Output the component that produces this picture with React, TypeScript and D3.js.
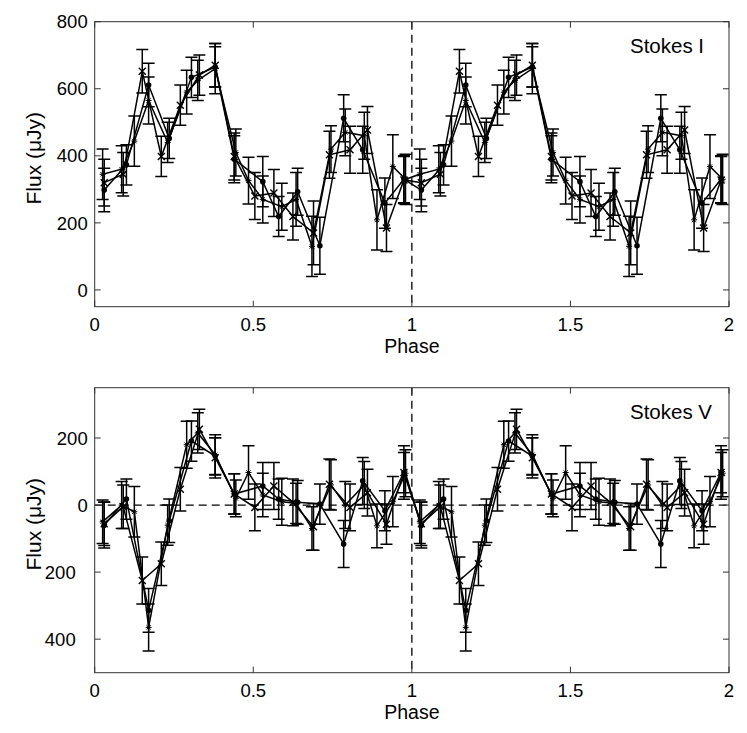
import { useEffect, useRef } from "react";
import * as d3 from "d3";

// phase bins of the three observing runs (first cycle; second cycle is phase + 1)
const phaseA = [0.03, 0.09, 0.15, 0.21, 0.27, 0.33, 0.38, 0.44, 0.505, 0.565, 0.625, 0.69, 0.74, 0.805, 0.86, 0.92, 0.975];
const phaseB = [0.03, 0.1, 0.17, 0.235, 0.305, 0.38, 0.44, 0.53, 0.58, 0.64, 0.71, 0.785, 0.845, 0.915, 0.975];
const phaseC = [0.025, 0.085, 0.125, 0.17, 0.23, 0.29, 0.325, 0.38, 0.445, 0.485, 0.53, 0.59, 0.635, 0.685, 0.745, 0.79, 0.85, 0.89, 0.94, 0.98];

// Stokes I (µJy)
const stokesIA = [320, 345, 652, 398, 551, 641, 670, 398, 280, 289, 219, 170, 403, 418, 477, 185, 328];
const stokesIB = [298, 373, 611, 452, 634, 665, 390, 323, 219, 293, 132, 512, 418, 259, 330];
const stokesIC = [345, 360, 444, 565, 440, 590, 625, 660, 410, 326, 270, 248, 270, 130, 420, 470, 460, 209, 368, 330];
const errIA = [70, 65, 65, 60, 60, 60, 65, 70, 70, 70, 70, 95, 70, 70, 70, 70, 70];
const errIB = [65, 60, 65, 60, 60, 60, 70, 75, 60, 70, 85, 70, 70, 75, 70];
const errIC = [75, 70, 75, 70, 60, 65, 60, 75, 70, 70, 70, 70, 80, 90, 70, 70, 70, 90, 95, 75];

// Stokes V (µJy)
const stokesVA = [-56, -5, -225, -175, 47, 226, 141, 33, -7, 57, 8, -65, 62, -7, 37, -57, 97];
const stokesVB = [-60, 18, -314, -47, 191, 146, 33, 57, 18, 8, 3, -116, 72, -17, 97];
const stokesVC = [-50, 0, -20, -365, -60, 180, 215, 150, 20, 97, 30, 10, 5, -70, 60, 0, 60, -62, 10, 95];
const errVA = [65, 65, 70, 65, 65, 60, 60, 60, 70, 70, 70, 70, 75, 70, 70, 60, 60];
const errVB = [68, 60, 65, 65, 60, 55, 60, 70, 60, 65, 60, 70, 70, 60, 80];
const errVC = [65, 70, 75, 70, 60, 70, 60, 60, 55, 80, 65, 70, 60, 65, 75, 70, 70, 65, 75, 70];

const phaseTicks = [0, 0.5, 1, 1.5, 2];
const phaseTickLabels = ["0", "0.5", "1", "1.5", "2"];
const iTicks = [0, 200, 400, 600, 800];
const iTickLabels = ["0", "200", "400", "600", "800"];
const vTicks = [-400, -200, 0, 200];
const vTickLabels = ["400", "200", "0", "200"];

const FONT = "'Liberation Sans', Arial, Helvetica, sans-serif";
const left = 94.7;
const right = 729;

const twoCycles = (phases, values, errs) =>
  [0, 1].flatMap((c) => phases.map((p, i) => ({ p: p + c, v: values[i], e: errs[i] })));

const drawMarker = (g, kind, cx, cy) => {
  if (kind === "x") {
    g.append("path")
      .attr("d", `M${cx - 3.5},${cy - 3.5}L${cx + 3.5},${cy + 3.5}M${cx - 3.5},${cy + 3.5}L${cx + 3.5},${cy - 3.5}`)
      .attr("stroke", "#000")
      .attr("stroke-width", 1.4);
  } else if (kind === "dot") {
    g.append("circle").attr("cx", cx).attr("cy", cy).attr("r", 2.8).attr("fill", "#000");
  } else {
    g.append("path")
      .attr("d", `M${cx - 3},${cy}L${cx + 3},${cy}M${cx},${cy - 3}L${cx},${cy + 3}M${cx - 2.2},${cy - 2.2}L${cx + 2.2},${cy + 2.2}M${cx - 2.2},${cy + 2.2}L${cx + 2.2},${cy - 2.2}`)
      .attr("stroke", "#000")
      .attr("stroke-width", 1);
  }
};

const renderPanel = (svg, cfg) => {
  const { id, top, bottom, domain, ticks, tickLabels, series, title, zeroLine } = cfg;
  const x = d3.scaleLinear().domain([0, 2]).range([left, right]);
  const y = d3.scaleLinear().domain(domain).range([bottom, top]);
  const g = svg.append("g");

  g.append("clipPath")
    .attr("id", id)
    .append("rect")
    .attr("x", left)
    .attr("y", top)
    .attr("width", right - left)
    .attr("height", bottom - top);

  const plot = g.append("g").attr("clip-path", `url(#${id})`);

  // dashed reference lines
  plot
    .append("line")
    .attr("x1", x(1))
    .attr("x2", x(1))
    .attr("y1", top)
    .attr("y2", bottom)
    .attr("stroke", "#000")
    .attr("stroke-width", 1.3)
    .attr("stroke-dasharray", "8,5");
  if (zeroLine) {
    plot
      .append("line")
      .attr("x1", left)
      .attr("x2", right)
      .attr("y1", y(0))
      .attr("y2", y(0))
      .attr("stroke", "#000")
      .attr("stroke-width", 1.3)
      .attr("stroke-dasharray", "8,5");
  }

  const line = d3
    .line()
    .x((d) => x(d.p))
    .y((d) => y(d.v));

  series.forEach((s) => {
    const pts = twoCycles(s.phases, s.values, s.errs);
    pts.forEach((d) => {
      const px = x(d.p);
      const y1 = y(d.v + d.e);
      const y2 = y(d.v - d.e);
      plot
        .append("path")
        .attr("d", `M${px},${y1}L${px},${y2}M${px - 6},${y1}L${px + 6},${y1}M${px - 6},${y2}L${px + 6},${y2}`)
        .attr("stroke", "#000")
        .attr("stroke-width", 1.5)
        .attr("fill", "none");
    });
    plot.append("path").attr("d", line(pts)).attr("fill", "none").attr("stroke", "#000").attr("stroke-width", 1.5);
    pts.forEach((d) => drawMarker(plot, s.marker, x(d.p), y(d.v)));
  });

  // axes box and inward ticks
  g.append("rect")
    .attr("x", left)
    .attr("y", top)
    .attr("width", right - left)
    .attr("height", bottom - top)
    .attr("fill", "none")
    .attr("stroke", "#333")
    .attr("stroke-width", 1);

  ticks.forEach((t, i) => {
    const ty = y(t);
    g.append("path").attr("d", `M${left},${ty}H${left + 6}M${right},${ty}H${right - 6}`).attr("stroke", "#333");
    // negative labels keep the room of their (unprinted) minus sign
    g.append("text")
      .attr("x", left - 7 - (t < 0 ? 12 : 0))
      .attr("y", ty)
      .attr("dy", "0.36em")
      .attr("text-anchor", "end")
      .attr("font-family", FONT)
      .attr("font-size", 18.5)
      .text(tickLabels[i]);
  });

  phaseTicks.forEach((t, i) => {
    const tx = x(t);
    g.append("path").attr("d", `M${tx},${bottom}V${bottom - 6}M${tx},${top}V${top + 6}`).attr("stroke", "#333");
    g.append("text")
      .attr("x", tx)
      .attr("y", bottom + 24)
      .attr("text-anchor", "middle")
      .attr("font-family", FONT)
      .attr("font-size", 18.5)
      .text(phaseTickLabels[i]);
  });

  g.append("text")
    .attr("x", (left + right) / 2)
    .attr("y", bottom + 46)
    .attr("text-anchor", "middle")
    .attr("font-family", FONT)
    .attr("font-size", 19.5)
    .text("Phase");

  g.append("text")
    .attr("transform", `translate(41,${(top + bottom) / 2 - 6}) rotate(-90)`)
    .attr("text-anchor", "middle")
    .attr("font-family", FONT)
    .attr("font-size", 21)
    .text("Flux (\u03bcJy)");

  g.append("text")
    .attr("x", 630)
    .attr("y", top + 31)
    .attr("font-family", FONT)
    .attr("font-size", 20.5)
    .text(title);
};

export default function App() {
  const ref = useRef(null);

  useEffect(() => {
    const svg = d3.select(ref.current);
    svg.selectAll("*").remove();

    renderPanel(svg, {
      id: "clip-i",
      top: 21.7,
      bottom: 306.7,
      domain: [-50, 800],
      ticks: iTicks,
      tickLabels: iTickLabels,
      title: "Stokes I",
      zeroLine: false,
      series: [
        { phases: phaseC, values: stokesIC, errs: errIC, marker: "star" },
        { phases: phaseB, values: stokesIB, errs: errIB, marker: "dot" },
        { phases: phaseA, values: stokesIA, errs: errIA, marker: "x" },
      ],
    });

    renderPanel(svg, {
      id: "clip-v",
      top: 387.7,
      bottom: 672.7,
      domain: [-500, 350],
      ticks: vTicks,
      tickLabels: vTickLabels,
      title: "Stokes V",
      zeroLine: true,
      series: [
        { phases: phaseC, values: stokesVC, errs: errVC, marker: "star" },
        { phases: phaseB, values: stokesVB, errs: errVB, marker: "dot" },
        { phases: phaseA, values: stokesVA, errs: errVA, marker: "x" },
      ],
    });
  }, []);

  return (
    <div style={{ position: "absolute", left: 0, top: 0, width: 747, height: 733, background: "#fff" }}>
      <svg ref={ref} width={747} height={733} />
    </div>
  );
}
